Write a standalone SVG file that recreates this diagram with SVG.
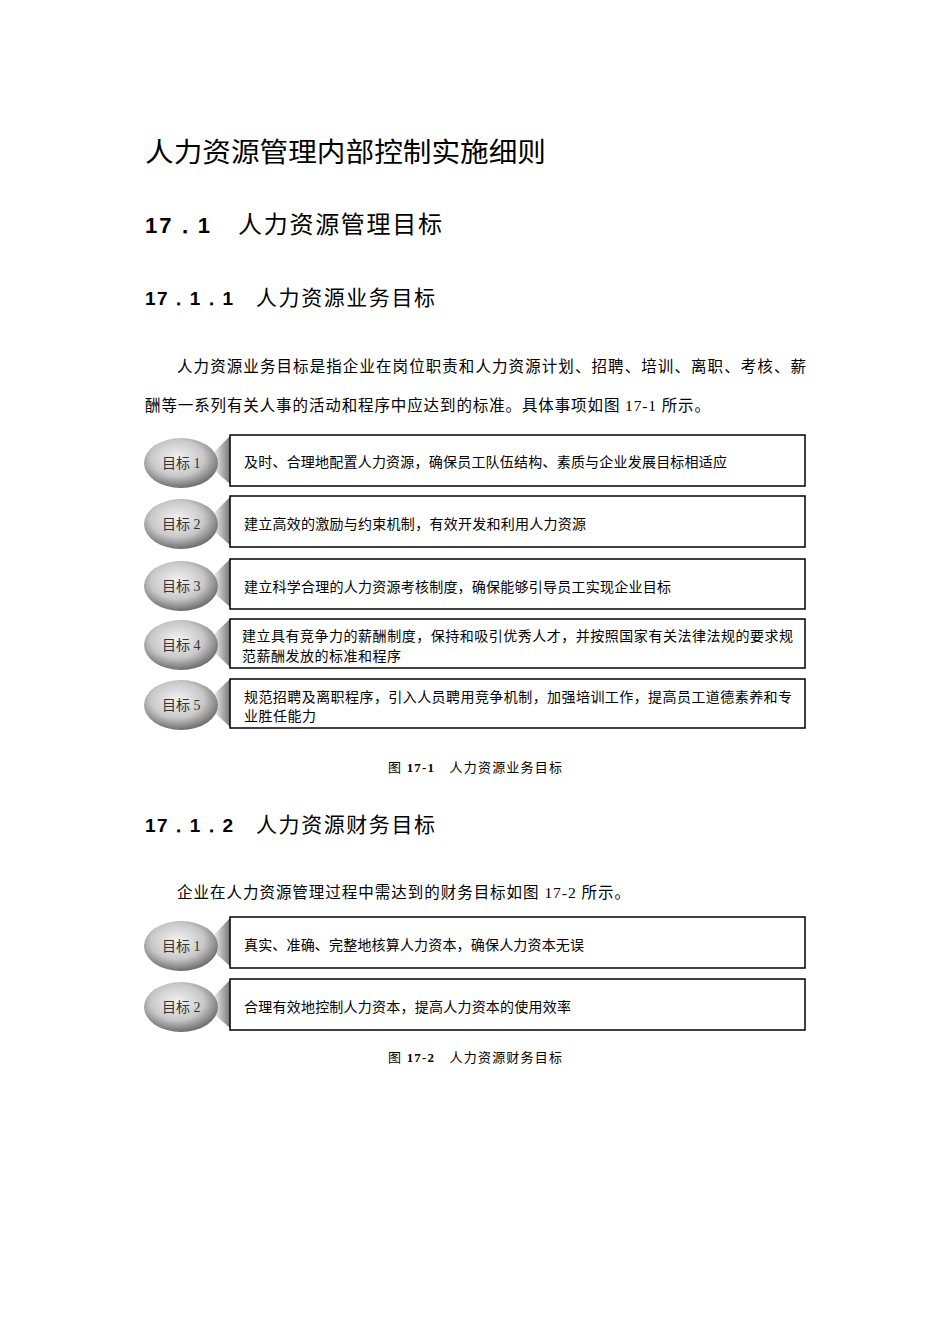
<svg xmlns="http://www.w3.org/2000/svg" width="950" height="1344" viewBox="0 0 950 1344">
<style>
text{font-family:"Liberation Serif","Noto Sans CJK SC",serif;fill:#000}
.b{fill:#fff;stroke:#000;stroke-width:1.5}
.t{font-size:14px}
.o{font-size:14px;fill:#333}
.n{font-weight:bold;font-family:"Liberation Sans",sans-serif}
</style>
<defs>
<radialGradient id="g" cx="0.45" cy="0.4" r="0.6">
<stop offset="0" stop-color="#f4f4f4"/><stop offset="0.6" stop-color="#c8c8c8"/><stop offset="1" stop-color="#6e6e6e"/>
</radialGradient>
<linearGradient id="tab" x1="0" x2="1"><stop offset="0" stop-color="#eee"/><stop offset="1" stop-color="#777"/></linearGradient>
</defs>
<rect width="950" height="1344" fill="#fff"/>
<text x="145" y="162" font-size="27" textLength="401" lengthAdjust="spacingAndGlyphs">人力资源管理内部控制实施细则</text>
<text class="n" x="145" y="233" font-size="22" textLength="65">17．1</text>
<text x="238" y="233" font-size="24" textLength="204">人力资源管理目标</text>
<text class="n" x="145" y="305" font-size="19" textLength="88">17．1．1</text>
<text x="256" y="305" font-size="21" textLength="179">人力资源业务目标</text>
<text x="177" y="372" font-size="15.5" textLength="629">人力资源业务目标是指企业在岗位职责和人力资源计划、招聘、培训、离职、考核、薪</text>
<text x="145" y="411" font-size="15.5" textLength="565">酬等一系列有关人事的活动和程序中应达到的标准。具体事项如图 17-1 所示。</text>
<g id="n1"><path d="M214 452 L230 436 L230 484 L214 470Z" fill="url(#tab)"/><ellipse cx="181" cy="463" rx="37" ry="25" fill="url(#g)"/><text class="o" x="162" y="468">目标 1</text><rect class="b" x="230" y="435" width="575" height="51"/><text class="t" x="244" y="467" textLength="483">及时、合理地配置人力资源，确保员工队伍结构、素质与企业发展目标相适应</text></g>
<g id="n2"><path d="M214 513 L230 497 L230 545 L214 531Z" fill="url(#tab)"/><ellipse cx="181" cy="524" rx="37" ry="25" fill="url(#g)"/><text class="o" x="162" y="529">目标 2</text><rect class="b" x="230" y="496" width="575" height="51"/><text class="t" x="244" y="529" textLength="342">建立高效的激励与约束机制，有效开发和利用人力资源</text></g>
<g id="n3"><path d="M214 575 L230 559 L230 607 L214 593Z" fill="url(#tab)"/><ellipse cx="181" cy="586" rx="37" ry="25" fill="url(#g)"/><text class="o" x="162" y="591">目标 3</text><rect class="b" x="230" y="559" width="575" height="50"/><text class="t" x="244" y="592" textLength="427">建立科学合理的人力资源考核制度，确保能够引导员工实现企业目标</text></g>
<g id="n4"><path d="M214 634 L230 619 L230 667 L214 652Z" fill="url(#tab)"/><ellipse cx="181" cy="645" rx="37" ry="25" fill="url(#g)"/><text class="o" x="162" y="650">目标 4</text><rect class="b" x="230" y="619" width="575" height="49"/><text class="t" x="242" y="641" textLength="551">建立具有竞争力的薪酬制度，保持和吸引优秀人才，并按照国家有关法律法规的要求规</text><text class="t" x="242" y="661" textLength="159">范薪酬发放的标准和程序</text></g>
<g id="n5"><path d="M214 694 L230 679 L230 727 L214 712Z" fill="url(#tab)"/><ellipse cx="181" cy="705" rx="37" ry="25" fill="url(#g)"/><text class="o" x="162" y="710">目标 5</text><rect class="b" x="230" y="679" width="575" height="49"/><text class="t" x="244" y="702" textLength="548">规范招聘及离职程序，引入人员聘用竞争机制，加强培训工作，提高员工道德素养和专</text><text class="t" x="244" y="721" textLength="72">业胜任能力</text></g>
<text x="388" y="772" font-size="13" textLength="174">图 <tspan font-weight="bold">17-1</tspan>　人力资源业务目标</text>
<text class="n" x="145" y="832" font-size="19" textLength="88">17．1．2</text>
<text x="256" y="832" font-size="21" textLength="179">人力资源财务目标</text>
<text x="177" y="898" font-size="15.5" textLength="453">企业在人力资源管理过程中需达到的财务目标如图 17-2 所示。</text>
<g id="m1"><path d="M214 935 L230 918 L230 966 L214 952Z" fill="url(#tab)"/><ellipse cx="181" cy="946" rx="37" ry="25" fill="url(#g)"/><text class="o" x="162" y="951">目标 1</text><rect class="b" x="230" y="917" width="575" height="51"/><text class="t" x="244" y="950" textLength="340">真实、准确、完整地核算人力资本，确保人力资本无误</text></g>
<g id="m2"><path d="M214 996 L230 980 L230 1028 L214 1014Z" fill="url(#tab)"/><ellipse cx="181" cy="1007" rx="37" ry="25" fill="url(#g)"/><text class="o" x="162" y="1012">目标 2</text><rect class="b" x="230" y="979" width="575" height="51"/><text class="t" x="244" y="1012" textLength="327">合理有效地控制人力资本，提高人力资本的使用效率</text></g>
<text x="388" y="1062" font-size="13" textLength="174">图 <tspan font-weight="bold">17-2</tspan>　人力资源财务目标</text>
<g id="connectors"/>
</svg>
